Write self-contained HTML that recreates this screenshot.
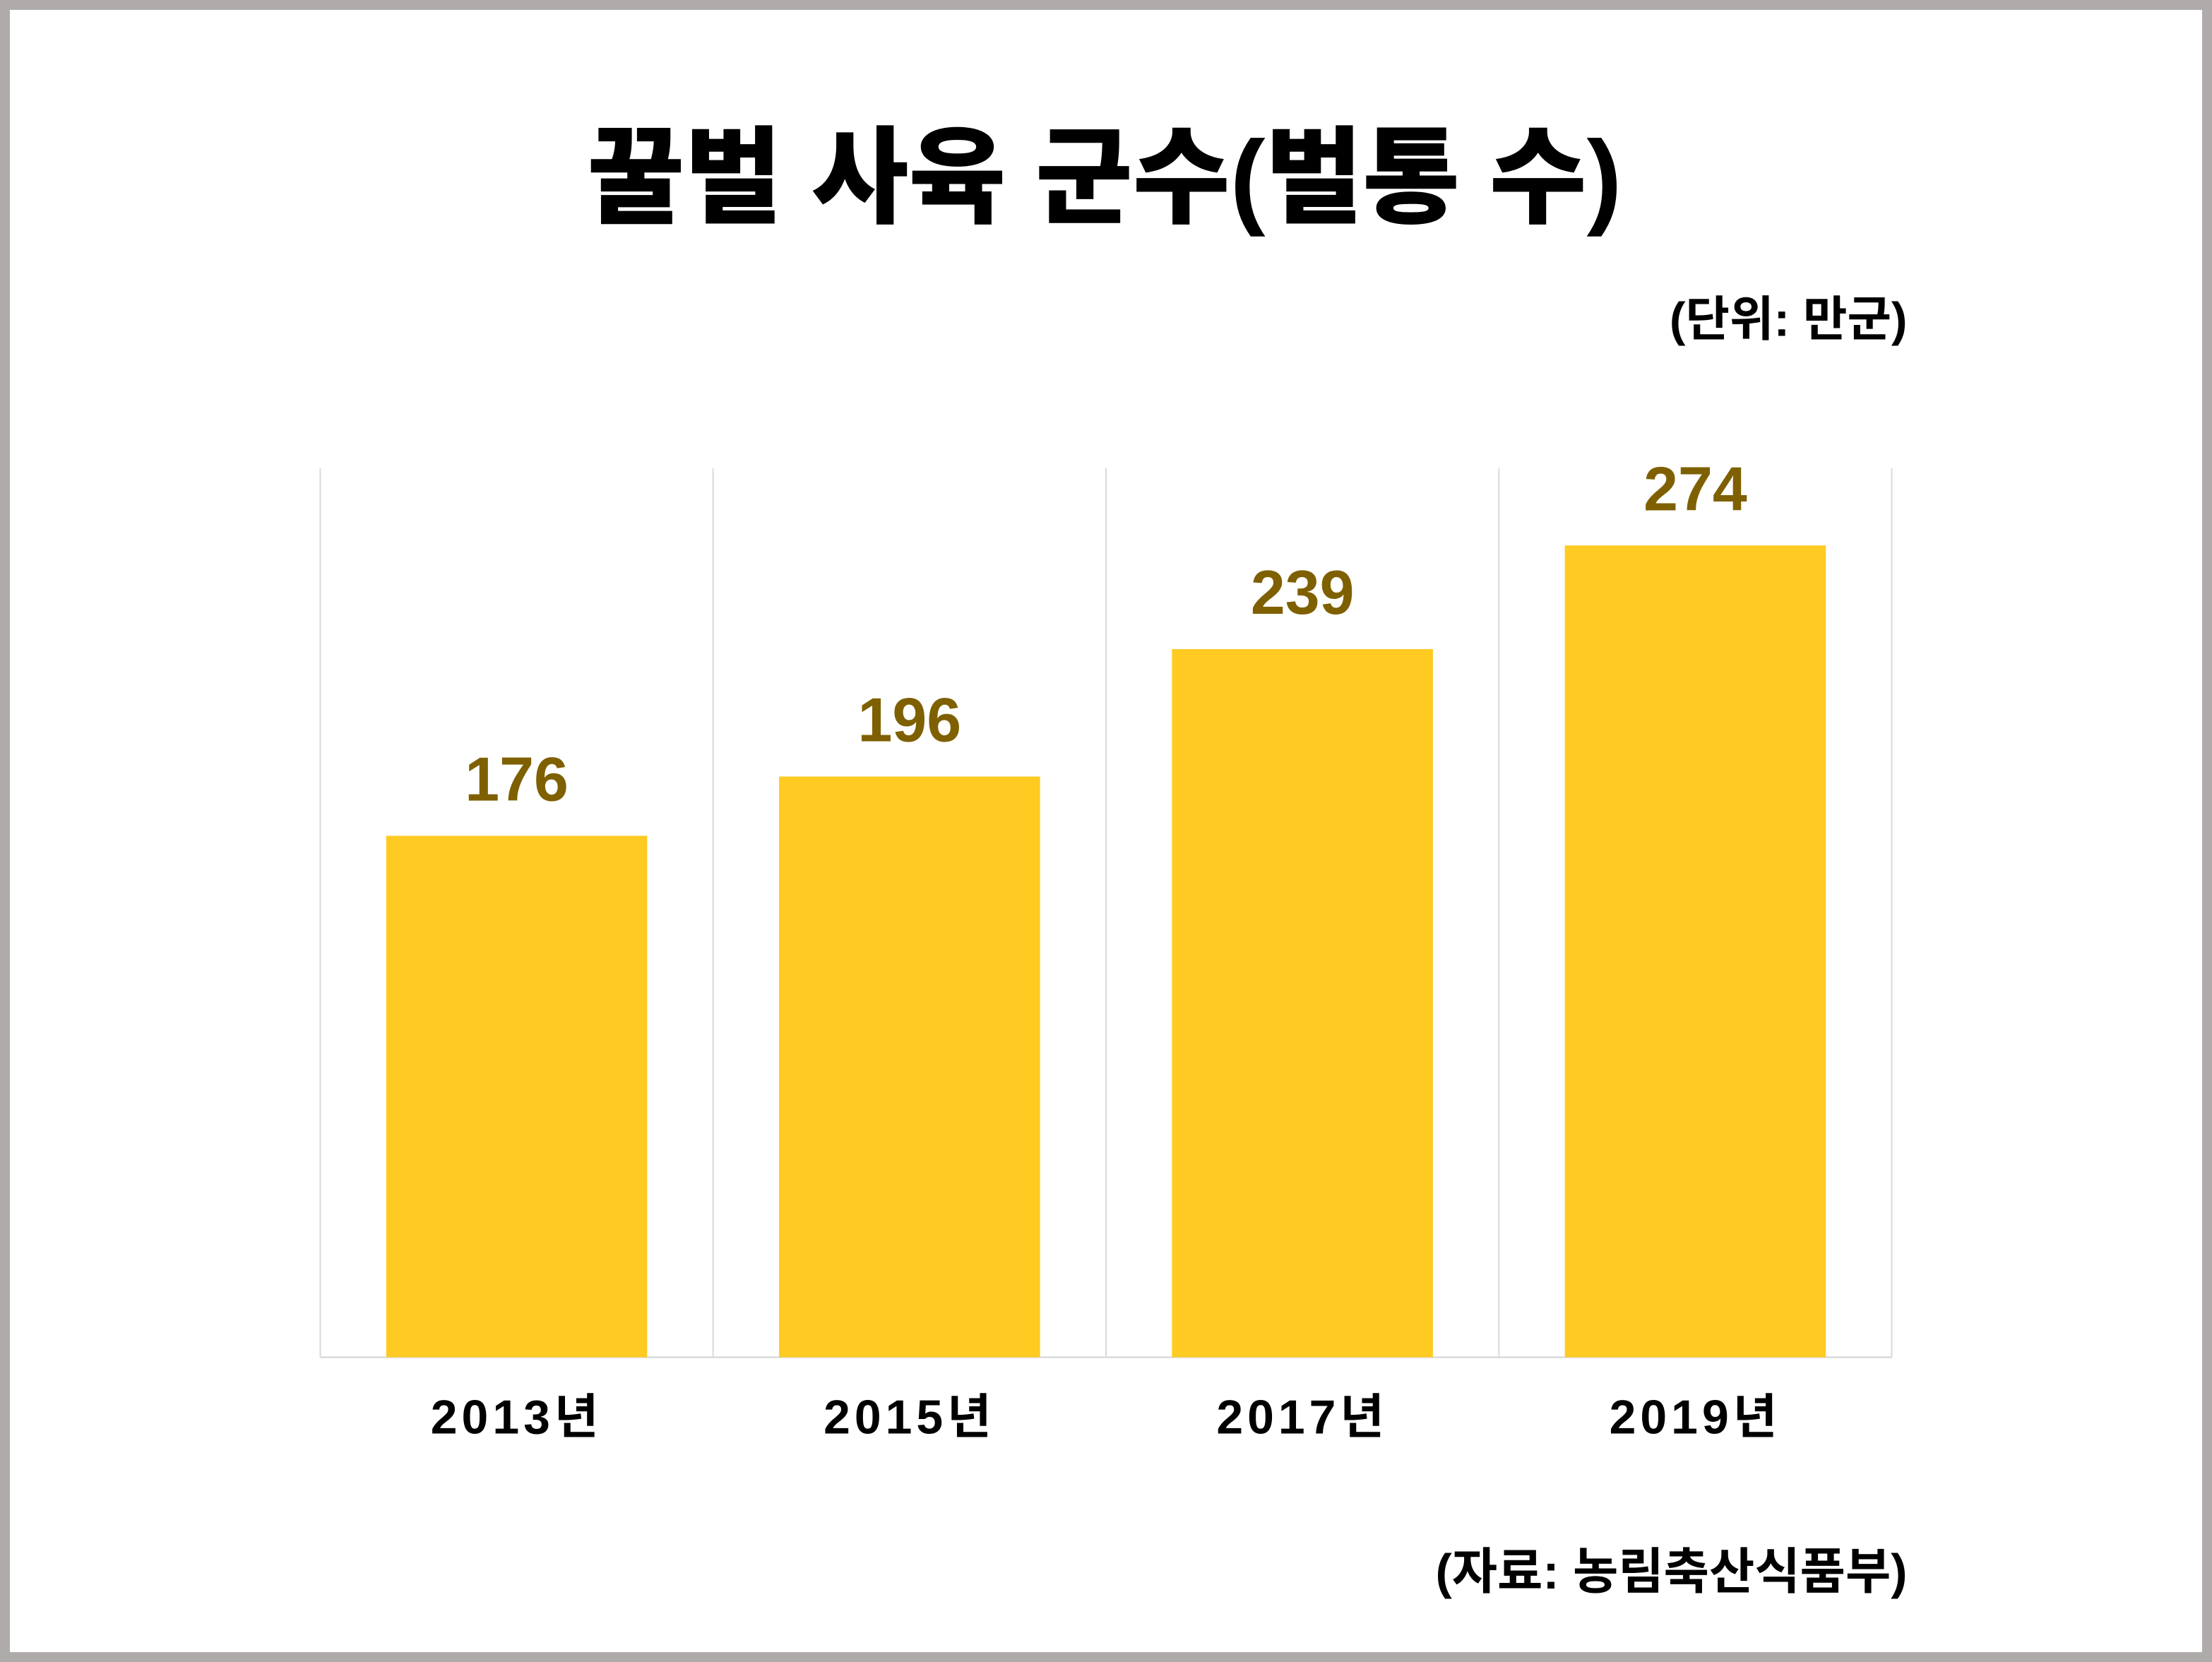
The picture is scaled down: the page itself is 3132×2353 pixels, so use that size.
<!DOCTYPE html>
<html><head><meta charset="utf-8">
<style>
html,body{margin:0;padding:0;background:#fff;}
svg{display:block;}
text{font-family:"Liberation Sans","Noto Sans CJK KR",sans-serif;}
</style></head>
<body>
<svg width="3132" height="2353" viewBox="0 0 1568 1178" preserveAspectRatio="none">
<rect x="3.5" y="3.5" width="1561" height="1171" fill="#fff" stroke="#afabab" stroke-width="7"/>
<text x="783" y="152" text-anchor="middle" font-size="75" font-weight="900" fill="#000">꿀벌 사육 군수(벌통 수)</text>
<text x="1352" y="238" text-anchor="end" font-size="34" font-weight="700" fill="#000">(단위: 만군)</text>
<g id="grid"></g>
<g id="bars"></g>
<g id="labels"></g>
<text x="1352" y="1126" text-anchor="end" font-size="35" font-weight="700" fill="#000">(자료: 농림축산식품부)</text>
</svg>
<script>
const categories = ["2013년","2015년","2017년","2019년"];
const values = [176,196,239,274];
const yMax = 300;
const NS="http://www.w3.org/2000/svg";
const plotLeft=227, plotRight=1341, plotTop=332, plotBottom=962;
const band=(plotRight-plotLeft)/categories.length;
const barW=185;
function yScale(v){return plotBottom-(v/yMax)*(plotBottom-plotTop);}
function xc(i){return plotLeft+band*(i+0.5);}
const grid=document.getElementById('grid'), bars=document.getElementById('bars'), labels=document.getElementById('labels');
for(let i=0;i<=categories.length;i++){
  const l=document.createElementNS(NS,'line');
  
  
  const x=plotLeft+band*i;
  l.setAttribute('x1',x);l.setAttribute('x2',x);l.setAttribute('y1',plotTop);l.setAttribute('y2',plotBottom);
  l.setAttribute('stroke','#d9d9d9');l.setAttribute('stroke-width','1');
  grid.appendChild(l);
}
const base=document.createElementNS(NS,'line');


base.setAttribute('x1',plotLeft);base.setAttribute('x2',plotRight);base.setAttribute('y1',plotBottom);base.setAttribute('y2',plotBottom);
base.setAttribute('stroke','#d9d9d9');base.setAttribute('stroke-width','1.2');
grid.appendChild(base);
values.forEach((v,i)=>{
  const r=document.createElementNS(NS,'rect');
  
  
  r.setAttribute('x',xc(i)-barW/2);r.setAttribute('y',yScale(v));
  r.setAttribute('width',barW);r.setAttribute('height',plotBottom-yScale(v));
  r.setAttribute('fill','#ffca22');
  bars.appendChild(r);
  const t=document.createElementNS(NS,'text');
  
  
  t.setAttribute('x',xc(i));t.setAttribute('y',yScale(v)-25);
  t.setAttribute('text-anchor','middle');t.setAttribute('font-size','44');
  t.setAttribute('font-weight','700');t.setAttribute('fill','#7f6000');
  t.textContent=v;
  labels.appendChild(t);
  const c=document.createElementNS(NS,'text');
  
  
  c.setAttribute('x',xc(i));c.setAttribute('y',1016);
  c.setAttribute('text-anchor','middle');c.setAttribute('font-size','34');
  c.setAttribute('font-weight','700');c.setAttribute('fill','#000');
  c.setAttribute('letter-spacing','3');
  c.textContent=categories[i];
  labels.appendChild(c);
});
</script>
</body></html>
